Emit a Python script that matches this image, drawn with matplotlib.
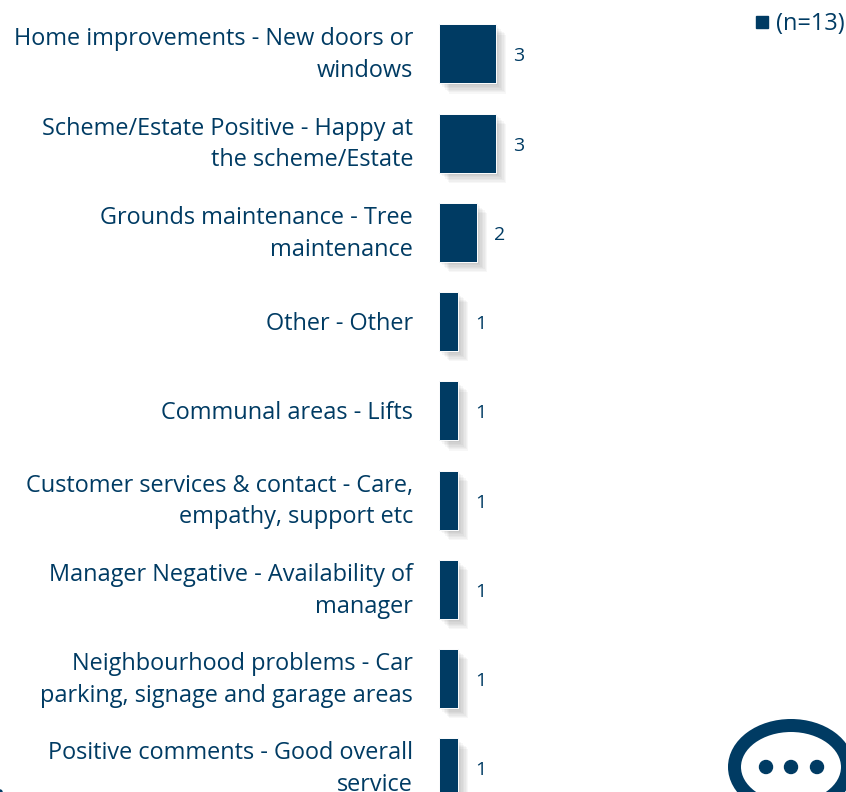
import matplotlib
matplotlib.use("Agg")
import matplotlib.pyplot as plt
import matplotlib.patheffects as pe
from matplotlib.lines import Line2D
from matplotlib.patches import Ellipse, Circle
from matplotlib.transforms import ScaledTranslation

categories = [
    "Home improvements - New doors or\nwindows",
    "Scheme/Estate Positive - Happy at\nthe scheme/Estate",
    "Grounds maintenance - Tree\nmaintenance",
    "Other - Other",
    "Communal areas - Lifts",
    "Customer services & contact - Care,\nempathy, support etc",
    "Manager Negative - Availability of\nmanager",
    "Neighbourhood problems - Car\nparking, signage and garage areas",
    "Positive comments - Good overall\nservice",
]
values = [3, 3, 2, 1, 1, 1, 1, 1, 1]
series_label = "(n=13)"

W, H = 846, 792
NAVY = "#003B63"
plt.rcParams["font.family"] = ["Open Sans", "DejaVu Sans"]
fig = plt.figure(figsize=(W / 100, H / 100), dpi=100, facecolor="white")

# Axes from the zero line to the right edge: 19 px per unit, 89.25 px per row
x0 = 439
row0 = 53.8
ax = fig.add_axes([x0 / W, 0, (W - x0) / W, 1])
ax.set_xlim(0, (W - x0) / 19)
ax.set_ylim((H - row0) / 89.25, -row0 / 89.25)
ax.patch.set_alpha(0)

positions = list(range(len(values)))
shadow = [
    pe.withSimplePatchShadow(offset=(o, -o), shadow_rgbFace="#000000", alpha=0.03)
    for o in (1.5, 2.5, 3.5, 4.5, 5.5, 6.5, 7.5)
]
bars = ax.barh(positions, values, height=59 / 89.25, color=NAVY,
               edgecolor="white", linewidth=0.7, zorder=3)
for b in bars:
    b.set_path_effects(shadow + [pe.Normal()])
    b.set_clip_on(False)

for y, v in zip(positions, values):
    ax.annotate(str(v), xy=(v, y), xytext=(12.2, -1.9), textcoords="offset points",
                va="center", ha="left", color=NAVY, fontsize=14)

ax.set_yticks(positions)
ax.set_yticklabels(categories, fontsize=16.9, color=NAVY, linespacing=1.43, ha="right")
ax.tick_params(axis="y", length=0, pad=26 * 0.72)
ax.set_xticks([])
for s in ax.spines.values():
    s.set_visible(False)

# Two-line labels sit slightly above their bar's centre in the reference
for lab, cat in zip(ax.get_yticklabels(), categories):
    dy = 5.5 if "\n" in cat else 0.8
    lab.set_transform(lab.get_transform() + ScaledTranslation(0, dy / 100, fig.dpi_scale_trans))

ax.legend(handles=[Line2D([], [], linestyle="none", marker="s", markersize=8.4,
                          color=NAVY, label=series_label)],
          loc="upper right", bbox_to_anchor=(1 + 8.5 / W, 1 - 2 / H), frameon=False,
          bbox_transform=fig.transFigure, fontsize=16.9, labelcolor=NAVY,
          borderaxespad=0, borderpad=0.42, handletextpad=0.1, handlelength=1.0)

# Speech bubble icon, in pixel coordinates of the figure
ov = fig.add_axes([0, 0, 1, 1])
ov.set_xlim(0, W)
ov.set_ylim(H, 0)
ov.axis("off")
ov.patch.set_alpha(0)
ov.add_patch(Ellipse((791, 767), 113, 83, facecolor="none", edgecolor=NAVY, linewidth=13 * 0.72))
for cx in (766, 791, 817):
    ov.add_patch(Circle((cx, 767), 6.5, color=NAVY))
ov.add_patch(Circle((0, 792), 2, color=NAVY))

fig.savefig("out.png", dpi=100, facecolor="white")
